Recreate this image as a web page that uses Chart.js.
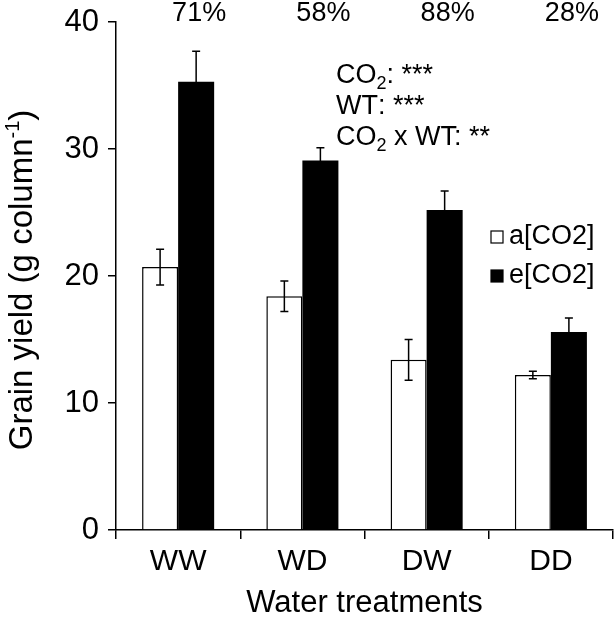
<!DOCTYPE html>
<html><head><meta charset="utf-8">
<script src="https://cdn.jsdelivr.net/npm/chart.js@4"></script>
<style>html,body{margin:0;padding:0;background:#fff}#wrap{width:615px;height:622px}</style>
</head><body><div id="wrap"><canvas id="c" width="615" height="622"></canvas></div>
<script>
const categories = ['WW', 'WD', 'DW', 'DD'];
const seriesLabels = ['a[CO2]', 'e[CO2]'];
const ambient = [20.7, 18.4, 13.4, 12.2];
const ambientErr = [1.4, 1.2, 1.6, 0.3];
const elevated = [35.3, 29.1, 25.2, 15.6];
const elevatedErr = [2.4, 1.0, 1.5, 1.1];
const increaseLabels = ['71%', '58%', '88%', '28%'];
const statLines = [['CO', '2', ': ***'], ['WT', '', ': ***'], ['CO', '2', ' x WT: **']];
const yTitle = ['Grain yield (g column', '-1', ')'];
const xTitle = 'Water treatments';

const FONT = '"Liberation Sans", Arial, sans-serif';

const errorBars = {
  id: 'errorBars',
  afterDatasetsDraw(chart) {
    const ctx = chart.ctx;
    const y = chart.scales.y;
    const errs = [ambientErr, elevatedErr];
    ctx.save();
    ctx.strokeStyle = '#000';
    ctx.lineWidth = 1.5;
    chart.data.datasets.forEach((ds, di) => {
      const meta = chart.getDatasetMeta(di);
      meta.data.forEach((bar, i) => {
        const v = ds.data[i], e = errs[di][i];
        const yt = y.getPixelForValue(v + e), yb = y.getPixelForValue(v - e);
        ctx.beginPath();
        ctx.moveTo(bar.x, yt); ctx.lineTo(bar.x, yb);
        ctx.moveTo(bar.x - 4, yt); ctx.lineTo(bar.x + 4, yt);
        ctx.moveTo(bar.x - 4, yb); ctx.lineTo(bar.x + 4, yb);
        ctx.stroke();
      });
    });
    ctx.restore();
  }
};

const annotations = {
  id: 'annotations',
  afterDraw(chart) {
    const ctx = chart.ctx;
    ctx.save();
    ctx.fillStyle = '#000';
    // percentages above elevated bars
    const meta = chart.getDatasetMeta(1);
    ctx.font = '27px ' + FONT;
    ctx.textAlign = 'center';
    ctx.textBaseline = 'middle';
    meta.data.forEach((bar, i) => ctx.fillText(increaseLabels[i], bar.x + 3, 14));
    // statistics text
    ctx.textAlign = 'left';
    ctx.textBaseline = 'alphabetic';
    const baselines = [83, 114, 145];
    statLines.forEach((parts, k) => {
      let x = 336;
      ctx.font = '27px ' + FONT;
      ctx.fillText(parts[0], x, baselines[k]);
      x += ctx.measureText(parts[0]).width;
      if (parts[1]) {
        ctx.font = '18px ' + FONT;
        ctx.fillText(parts[1], x, baselines[k] + 6);
        x += ctx.measureText(parts[1]).width;
      }
      ctx.font = '27px ' + FONT;
      ctx.fillText(parts[2], x, baselines[k]);
    });
    // legend
    const rows = [237, 276];
    chart.data.datasets.forEach((ds, di) => {
      const cy = rows[di];
      ctx.fillStyle = ds.backgroundColor;
      ctx.fillRect(491, cy - 6, 12, 12);
      ctx.strokeStyle = '#000';
      ctx.lineWidth = 1.2;
      ctx.strokeRect(491, cy - 6, 12, 12);
      ctx.fillStyle = '#000';
      ctx.font = '27px ' + FONT;
      ctx.textBaseline = 'middle';
      ctx.fillText(ds.label, 509, cy);
    });
    // y title
    ctx.save();
    ctx.translate(23, 280);
    ctx.rotate(-Math.PI / 2);
    const big = '33px ' + FONT, small = '20px ' + FONT;
    ctx.font = big;
    const w0 = ctx.measureText(yTitle[0]).width;
    ctx.font = small;
    const w1 = ctx.measureText(yTitle[1]).width;
    ctx.font = big;
    const w2 = ctx.measureText(yTitle[2]).width;
    let x = -(w0 + w1 + w2) / 2;
    ctx.textBaseline = 'middle';
    ctx.fillText(yTitle[0], x, 0); x += w0;
    ctx.font = small;
    ctx.fillText(yTitle[1], x, -10); x += w1;
    ctx.font = big;
    ctx.fillText(yTitle[2], x, 0);
    ctx.restore();
    ctx.restore();
  }
};

new Chart(document.getElementById('c'), {
  type: 'bar',
  data: {
    labels: categories,
    datasets: [
      { label: seriesLabels[0], data: ambient, backgroundColor: '#ffffff', borderColor: '#000000', borderWidth: 1.5, borderSkipped: 'bottom' },
      { label: seriesLabels[1], data: elevated, backgroundColor: '#000000', borderColor: '#000000', borderWidth: 0 }
    ]
  },
  options: {
    responsive: false,
    animation: false,
    devicePixelRatio: 1,
    categoryPercentage: 0.58,
    barPercentage: 1.0,
    layout: { padding: { top: 22, right: 2, left: 0, bottom: 0 } },
    plugins: { legend: { display: false }, tooltip: { enabled: false } },
    scales: {
      x: {
        offset: true,
        grid: { display: true, offset: true, drawOnChartArea: false, drawTicks: true, tickLength: 9, color: '#000', lineWidth: 1.5 },
        border: { display: true, color: '#000', width: 1.5 },
        ticks: { color: '#000', font: { family: FONT, size: 30 }, padding: 5 },
        title: { display: true, text: xTitle, color: '#000', font: { family: FONT, size: 31 }, padding: { top: 0, bottom: 0 } },
        afterFit(s) { s.height = 92; s.paddingLeft = 0; s.paddingRight = 0; }
      },
      y: {
        min: 0, max: 40,
        grid: { display: true, drawOnChartArea: false, drawTicks: true, tickLength: 8, color: '#000', lineWidth: 1.5 },
        border: { display: true, color: '#000', width: 1.5 },
        ticks: { stepSize: 10, color: '#000', font: { family: FONT, size: 31, lineHeight: 1 }, padding: 9 },
        afterFit(s) { s.width = 116; s.paddingTop = 0; s.paddingBottom = 0; }
      }
    }
  },
  plugins: [errorBars, annotations]
});
</script>
</body></html>
